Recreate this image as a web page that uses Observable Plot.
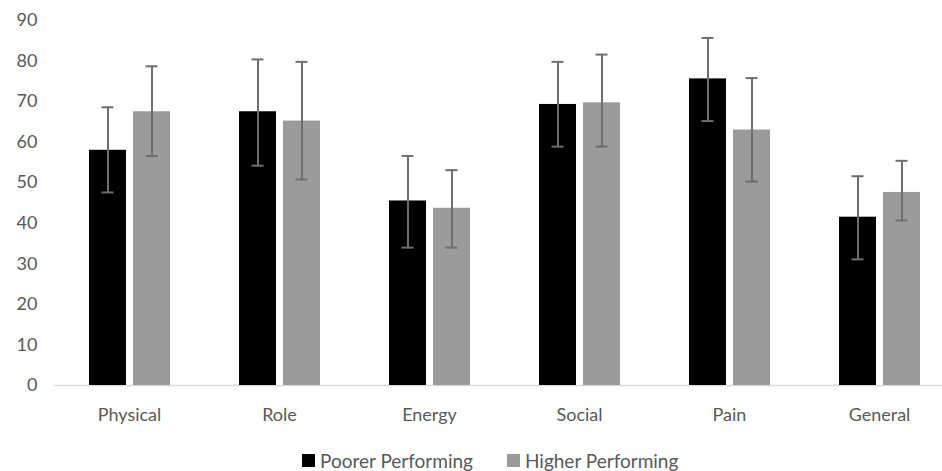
<!DOCTYPE html>
<html>
<head>
<meta charset="utf-8">
<script src="https://cdn.jsdelivr.net/npm/d3@7"></script>
<script src="https://cdn.jsdelivr.net/npm/@observablehq/plot@0.6"></script>
<style>
  html, body { margin: 0; padding: 0; background: #fff; overflow: hidden; }
  #wrap { position: relative; width: 942px; height: 471px; }
  #legend { position: absolute; left: 302px; top: 449px; display: flex; align-items: center;
    font-family: Lato, "Open Sans", sans-serif; font-size: 19px; color: #595959; }
  .item { display: flex; align-items: center; margin-right: 34px; }
  .sw { width: 13px; height: 13px; margin-right: 5px; }
</style>
</head>
<body>
<div id="wrap">
  <div id="chart"></div>
  <div id="legend"></div>
</div>
<script>
const categories = ["Physical", "Role", "Energy", "Social", "Pain", "General"];
const seriesNames = ["Poorer Performing", "Higher Performing"];
const seriesColors = ["#000000", "#9b9b9b"];
const poorer   = [58.0, 67.5, 45.5, 69.3, 75.6, 41.5];
const poorerLo = [47.6, 54.2, 34.0, 58.9, 65.2, 31.1];
const poorerHi = [68.6, 80.4, 56.6, 79.8, 85.7, 51.6];
const higher   = [67.5, 65.2, 43.7, 69.7, 63.0, 47.6];
const higherLo = [56.6, 50.8, 34.0, 58.9, 50.3, 40.7];
const higherHi = [78.7, 79.8, 53.1, 81.6, 75.8, 55.4];
const yTicks = [0, 10, 20, 30, 40, 50, 60, 70, 80, 90];

const data = categories.flatMap((c, i) => [
  {cat: c, series: seriesNames[0], value: poorer[i], lo: poorerLo[i], hi: poorerHi[i]},
  {cat: c, series: seriesNames[1], value: higher[i], lo: higherLo[i], hi: higherHi[i]}
]);

const errColor = "#6e6e6e";
const chart = Plot.plot({
  width: 942,
  height: 440,
  marginLeft: 53,
  marginRight: -12,
  marginTop: 20,
  marginBottom: 55,
  style: {fontFamily: "Lato, 'Open Sans', sans-serif", fontSize: "18px", color: "#595959", background: "#fff"},
  fx: {domain: categories, padding: 0, label: null, axis: "bottom", tickSize: 0, tickPadding: 23},
  x: {domain: seriesNames, axis: null, paddingInner: 0.169, paddingOuter: 0.77},
  y: {domain: [0, 90], ticks: yTicks, tickSize: 0, tickPadding: 17, label: null},
  color: {domain: seriesNames, range: seriesColors},
  marks: [
    Plot.ruleY([0], {stroke: "#d9d9d9", strokeWidth: 1.5}),
    Plot.barY(data, {fx: "cat", x: "series", y: "value", fill: "series"}),
    Plot.ruleX(data, {fx: "cat", x: "series", y1: "lo", y2: "hi", stroke: errColor, strokeWidth: 2}),
    Plot.tickY(data, {fx: "cat", x: "series", y: "hi", insetLeft: 12.5, insetRight: 12.5, stroke: errColor, strokeWidth: 2}),
    Plot.tickY(data, {fx: "cat", x: "series", y: "lo", insetLeft: 12.5, insetRight: 12.5, stroke: errColor, strokeWidth: 2})
  ]
});
document.getElementById("chart").appendChild(chart);

const legend = document.getElementById("legend");
seriesNames.forEach((s, i) => {
  const item = document.createElement("div");
  item.className = "item";
  const sw = document.createElement("div");
  sw.className = "sw";
  sw.style.background = seriesColors[i];
  const t = document.createElement("span");
  t.textContent = s;
  item.appendChild(sw);
  item.appendChild(t);
  legend.appendChild(item);
});
</script>
</body>
</html>
